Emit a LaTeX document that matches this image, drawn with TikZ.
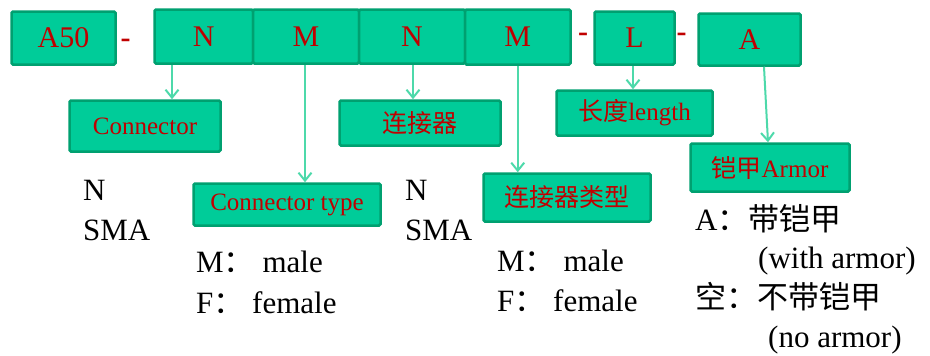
\documentclass[tikz,border=0pt]{standalone}
\usepackage{fontspec}
\setmainfont{Liberation Serif}
\newfontfamily\cjk{Noto Sans CJK SC}
\usetikzlibrary{arrows.meta}
\definecolor{boxgreen}{HTML}{00CC99}
\definecolor{boxedge}{HTML}{00A070}
\definecolor{arrowgreen}{HTML}{4DD9AA}
\definecolor{textred}{HTML}{C00000}

\begin{document}
\begin{tikzpicture}[
    x=1pt, y=-1pt,
    code/.style={rectangle, draw=boxedge, fill=boxgreen, line width=2.5pt, rounded corners=1.5pt, text=textred, font=\fontsize{30}{36}\selectfont, inner sep=0pt},
    tag/.style={rectangle, draw=boxedge, fill=boxgreen, line width=2.5pt, rounded corners=1.5pt, text=textred, font=\fontsize{25}{30}\selectfont, inner sep=0pt},
    sep/.style={text=textred, font=\fontsize{30}{36}\selectfont\bfseries, inner sep=0pt},
    note/.style={anchor=base west, inner sep=0pt, font=\fontsize{31}{38}\selectfont},
    arrow/.style={draw=arrowgreen, line width=2pt, -{Straight Barb[length=8pt, width=13pt]}}
]
    \useasboundingbox (0,0) rectangle (930,356);

    % code row
    \node [code, minimum width=104pt, minimum height=53pt] (a50) at (63.5,38) {A50};
    \node [code, minimum width=98.5pt, minimum height=54pt] (n1) at (203.75,36.5) {N};
    \node [code, minimum width=106pt, minimum height=54pt] (m1) at (306,36.5) {M};
    \node [code, minimum width=106pt, minimum height=54pt] (n2) at (412,36.5) {N};
    \node [code, minimum width=105.5pt, minimum height=55pt] (m2) at (517.75,37) {M};
    \node [code, minimum width=80pt, minimum height=53pt] (len) at (634.5,38) {L};
    \node [code, minimum width=102pt, minimum height=52pt] (arm) at (749.5,39.5) {A};

    \node [sep] (dash1) at (125.5,43) {-};
    \node [sep] (dash2) at (583,37) {-};
    \node [sep] (dash3) at (681.5,37) {-};

    % meaning boxes
    \node [tag, minimum width=151pt, minimum height=51pt] (conn) at (145,126) {Connector};
    \node [tag, minimum width=187pt, minimum height=42pt] (connty) at (287,204.5) {Connector type};
    \node [tag, minimum width=161pt, minimum height=45pt] (connzh) at (420,123) {\cjk 连接器};
    \node [tag, minimum width=167pt, minimum height=48pt] (conntyzh) at (567,197.5) {\cjk 连接器类型};
    \node [tag, minimum width=156pt, minimum height=45pt] (lenlab) at (634.5,113) {{\cjk 长度}length};
    \node [tag, minimum width=159pt, minimum height=48pt] (armlab) at (770,167.5) {{\cjk 铠甲}Armor};

    \draw [arrow] ([xshift=-31.75pt]n1.south) -- ([xshift=-31.75pt]n1.south |- conn.north);
    \draw [arrow] ([xshift=-1pt]m1.south) -- ([xshift=-1pt]m1.south |- connty.north);
    \draw [arrow] ([xshift=1pt]n2.south) -- ([xshift=1pt]n2.south |- connzh.north);
    \draw [arrow] (m2.south) -- (m2.south |- conntyzh.north);
    \draw [arrow] ([xshift=-1.5pt]len.south) -- ([xshift=-1.5pt]len.south |- lenlab.north);
    \draw [arrow] ([xshift=14.5pt]arm.south) -- ([xshift=-2pt]armlab.north);

    % values
    \node [note] (connN) at (83,200) {N};
    \node [note] (connSMA) at (83,240) {SMA};
    \node [note] (typeM) at (196,272) {M{\cjk ：} male};
    \node [note] (typeF) at (196,313) {F{\cjk ：} female};
    \node [note] (connN2) at (405,200) {N};
    \node [note] (connSMA2) at (405,240) {SMA};
    \node [note] (typeM2) at (497,271) {M{\cjk ：} male};
    \node [note] (typeF2) at (497,311) {F{\cjk ：} female};
    \node [note] (armA) at (695,230) {A{\cjk ：带铠甲}};
    \node [note] (armAen) at (758,268) {(with armor)};
    \node [note] (armNo) at (695,308) {\cjk 空：不带铠甲};
    \node [note] (armNoen) at (768,347) {(no armor)};
\end{tikzpicture}
\end{document}
